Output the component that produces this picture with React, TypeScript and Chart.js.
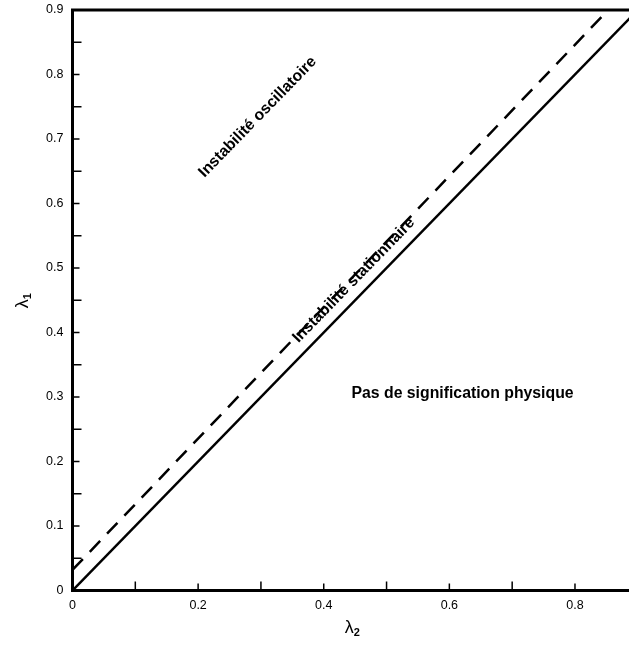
import { useEffect, useRef } from "react";
import { Chart, registerables } from "chart.js";

Chart.register(...registerables);

// Boundary curves in the (λ2, λ1) plane
const solidLambda2 = [0, 0.9];
const solidLambda1 = [0, 0.9];
const dashedLambda2 = [0, 0.9];
const dashedLambda1 = [0.032, 0.948];

// Axis extents and tick steps
const xMin = 0;
const xMax = 0.886;
const yMin = 0;
const yMax = 0.9;
const xLabelStep = 0.2;
const yLabelStep = 0.1;

// Axis names (symbol + subscript)
const xTitle = ["λ", "2"];
const yTitle = ["λ", "1"];

// Region names
const regionNames = [
  "Instabilité oscillatoire",
  "Instabilité stationnaire",
  "Pas de signification physique",
];

const FONT = "'Liberation Sans', Arial, Helvetica, sans-serif";

const toPoints = (xs: number[], ys: number[]) =>
  xs.map((x, i) => ({ x, y: ys[i] }));

const fmt = (v: number | string) => {
  const n = Number(v);
  if (Math.abs(n) < 1e-9) return "0";
  return n.toFixed(1);
};

// Frame (left, bottom, top) with inward-pointing tick marks
const framePlugin = {
  id: "frame",
  afterDraw(chart: any) {
    const { ctx, chartArea, scales } = chart;
    const { left, right, top, bottom } = chartArea;
    const xs = scales.x;
    const ys = scales.y;
    ctx.save();
    ctx.strokeStyle = "#000";
    ctx.lineWidth = 1.5;
    ctx.beginPath();
    for (let i = 1; i * 0.1 <= xMax + 1e-9; i++) {
      const px = xs.getPixelForValue(i * 0.1);
      const len = i % 2 === 0 ? 7 : 9;
      ctx.moveTo(px, bottom);
      ctx.lineTo(px, bottom - len);
    }
    for (let i = 1; i * 0.05 < yMax - 1e-9; i++) {
      const py = ys.getPixelForValue(i * 0.05);
      const len = i % 2 === 0 ? 7 : 9;
      ctx.moveTo(left, py);
      ctx.lineTo(left + len, py);
    }
    ctx.stroke();

    ctx.lineWidth = 3;
    ctx.lineCap = "square";
    ctx.beginPath();
    ctx.moveTo(right + 2, top);
    ctx.lineTo(left, top);
    ctx.lineTo(left, bottom);
    ctx.lineTo(right + 2, bottom);
    ctx.stroke();
    ctx.restore();
  },
};

// Draws a symbol followed by a subscript, starting at (x, y) on the baseline
function drawSubscripted(
  ctx: CanvasRenderingContext2D,
  parts: string[],
  x: number,
  y: number,
  angle: number
) {
  ctx.save();
  ctx.translate(x, y);
  ctx.rotate(angle);
  ctx.fillStyle = "#000";
  ctx.textAlign = "left";
  ctx.textBaseline = "alphabetic";
  ctx.font = `18px ${FONT}`;
  ctx.fillText(parts[0], 0, 0);
  const w = ctx.measureText(parts[0]).width;
  ctx.font = `bold 11px ${FONT}`;
  ctx.fillText(parts[1], w, 3);
  ctx.restore();
}

// Axis titles and region names
const textPlugin = {
  id: "texts",
  afterDatasetsDraw(chart: any) {
    const { ctx, scales, chartArea } = chart;
    const xs = scales.x;
    const ys = scales.y;
    const diag = Math.atan2(
      ys.getPixelForValue(1) - ys.getPixelForValue(0),
      xs.getPixelForValue(1) - xs.getPixelForValue(0)
    );
    const anchors = [
      { x: 0.295, y: 0.734, angle: diag },
      { x: 0.448, y: 0.481, angle: diag },
      { x: 0.621, y: 0.305, angle: 0 },
    ];
    ctx.save();
    ctx.fillStyle = "#000";
    ctx.font = `bold 15.8px ${FONT}`;
    ctx.textAlign = "center";
    ctx.textBaseline = "middle";
    regionNames.forEach((name, i) => {
      const a = anchors[i];
      ctx.save();
      ctx.translate(xs.getPixelForValue(a.x), ys.getPixelForValue(a.y));
      ctx.rotate(a.angle);
      ctx.fillText(name, 0, 0);
      ctx.restore();
    });
    ctx.restore();

    const midX = (chartArea.left + chartArea.right) / 2;
    const midY = (chartArea.top + chartArea.bottom) / 2;
    drawSubscripted(ctx, xTitle, midX - 6, 633, 0);
    drawSubscripted(ctx, yTitle, 28, midY + 8, -Math.PI / 2);
  },
};

export default function App() {
  const canvasRef = useRef<HTMLCanvasElement | null>(null);

  useEffect(() => {
    const canvas = canvasRef.current;
    if (!canvas) return;
    const chart = new Chart(canvas, {
      type: "scatter",
      data: {
        datasets: [
          {
            data: toPoints(solidLambda2, solidLambda1),
            showLine: true,
            borderColor: "#000",
            borderWidth: 2.5,
            pointRadius: 0,
            pointHoverRadius: 0,
          },
          {
            data: toPoints(dashedLambda2, dashedLambda1),
            showLine: true,
            borderColor: "#000",
            borderWidth: 2.5,
            borderDash: [15, 10],
            pointRadius: 0,
            pointHoverRadius: 0,
          },
        ],
      },
      options: {
        responsive: false,
        animation: false,
        devicePixelRatio: 1,
        layout: { padding: { top: 10, right: 0, left: 0, bottom: 0 } },
        plugins: {
          legend: { display: false },
          tooltip: { enabled: false },
        },
        scales: {
          x: {
            type: "linear",
            position: "bottom",
            min: xMin,
            max: xMax,
            afterFit: (s: any) => {
              s.height = 54.5;
              s.paddingLeft = 0;
              s.paddingRight = 0;
            },
            grid: { display: false, drawTicks: false },
            border: { display: false },
            ticks: {
              stepSize: xLabelStep,
              includeBounds: false,
              color: "#000",
              padding: 8,
              maxRotation: 0,
              font: { family: FONT, size: 12.5 },
              callback: (v: any) => fmt(v),
            },
          },
          y: {
            type: "linear",
            position: "left",
            min: yMin,
            max: yMax,
            afterFit: (s: any) => {
              s.width = 72.5;
              s.paddingTop = 0;
              s.paddingBottom = 0;
            },
            grid: { display: false, drawTicks: false },
            border: { display: false },
            ticks: {
              stepSize: yLabelStep,
              includeBounds: false,
              color: "#000",
              padding: 9,
              font: { family: FONT, size: 12.5 },
              callback: (v: any) => fmt(v),
            },
          },
        },
      },
      plugins: [textPlugin, framePlugin],
    });
    return () => chart.destroy();
  }, []);

  return (
    <div
      style={{
        position: "absolute",
        left: 0,
        top: 0,
        width: 629,
        height: 645,
        background: "#fff",
      }}
    >
      <canvas
        ref={canvasRef}
        width={629}
        height={645}
        style={{ display: "block", width: 629, height: 645 }}
      />
    </div>
  );
}
